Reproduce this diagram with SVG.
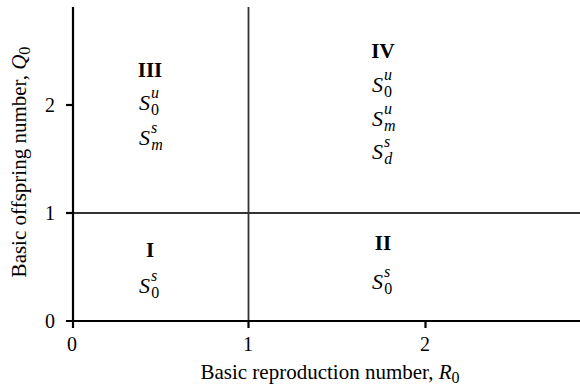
<svg xmlns="http://www.w3.org/2000/svg" width="580" height="391" viewBox="0 0 580 391">
<style>
text{font-family:"Liberation Serif","Times New Roman",serif;fill:#000}
.tick{font-size:20px;text-anchor:middle}
.lab{font-size:21px;text-anchor:middle}
.roman{font-size:21px;font-weight:bold;text-anchor:middle}
.s{font-size:22px;font-style:italic}
.sub{font-size:16px}
.axis{stroke:#000;stroke-width:2.2;fill:none}
.div{stroke:#333;stroke-width:1.8;fill:none}
</style>
<rect width="580" height="391" fill="#fff"/>
<g id="connectors">
<line class="div" x1="248.5" y1="7" x2="248.5" y2="321"/>
<line class="div" x1="73" y1="213" x2="580" y2="213"/>
<line class="axis" x1="73" y1="7" x2="73" y2="328"/>
<line class="axis" x1="66" y1="321" x2="580" y2="321"/>
<line class="axis" x1="66" y1="213" x2="73" y2="213"/>
<line class="axis" x1="66" y1="105" x2="73" y2="105"/>
<line class="axis" x1="248.5" y1="321" x2="248.5" y2="328"/>
<line class="axis" x1="425.5" y1="321" x2="425.5" y2="328"/>
</g>
<g id="axis-ticks">
<text class="tick" x="50" y="328">0</text>
<text class="tick" x="50" y="220">1</text>
<text class="tick" x="50" y="112">2</text>
<text class="tick" x="72" y="351">0</text>
<text class="tick" x="248" y="351">1</text>
<text class="tick" x="425" y="351">2</text>
</g>
<g id="x-label"><text class="lab" x="330" y="379">Basic reproduction number, <tspan font-style="italic">R</tspan><tspan class="sub" dy="4">0</tspan></text></g>
<g id="y-label"><text class="lab" transform="translate(26,162) rotate(-90)">Basic offspring number, <tspan font-style="italic">Q</tspan><tspan class="sub" dy="4">0</tspan></text></g>
<g id="region-III">
<text class="roman" x="150" y="77">III</text>
<text class="s" x="139" y="110">S<tspan class="sub" dx="1" dy="-12">u</tspan><tspan class="sub" dx="-8" dy="17" font-style="normal">0</tspan></text>
<text class="s" x="139" y="145">S<tspan class="sub" dx="1" dy="-12">s</tspan><tspan class="sub" dx="-6" dy="17">m</tspan></text>
</g>
<g id="region-IV">
<text class="roman" x="383" y="58">IV</text>
<text class="s" x="372" y="92">S<tspan class="sub" dx="1" dy="-12">u</tspan><tspan class="sub" dx="-8" dy="17" font-style="normal">0</tspan></text>
<text class="s" x="372" y="126">S<tspan class="sub" dx="1" dy="-12">u</tspan><tspan class="sub" dx="-8" dy="17">m</tspan></text>
<text class="s" x="372" y="159">S<tspan class="sub" dx="1" dy="-12">s</tspan><tspan class="sub" dx="-6" dy="17">d</tspan></text>
</g>
<g id="region-I">
<text class="roman" x="150" y="257">I</text>
<text class="s" x="139" y="293">S<tspan class="sub" dx="1" dy="-12">s</tspan><tspan class="sub" dx="-6" dy="17" font-style="normal">0</tspan></text>
</g>
<g id="region-II">
<text class="roman" x="383" y="250">II</text>
<text class="s" x="372" y="289">S<tspan class="sub" dx="1" dy="-12">s</tspan><tspan class="sub" dx="-6" dy="17" font-style="normal">0</tspan></text>
</g>
</svg>
